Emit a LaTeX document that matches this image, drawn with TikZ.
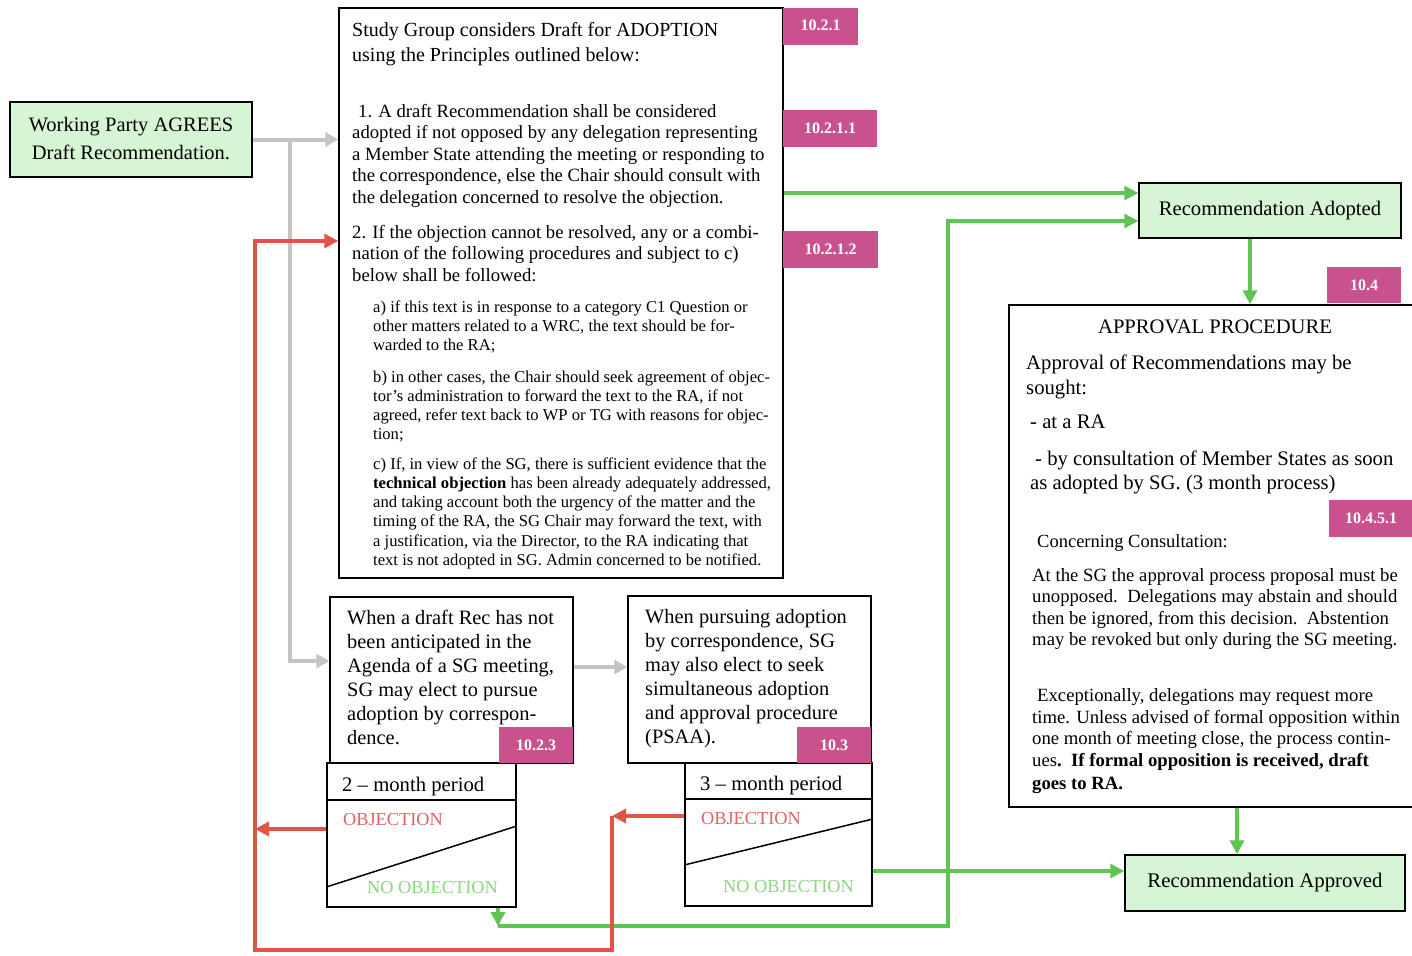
\documentclass[tikz,border=0pt]{standalone}
\usepackage{fontspec}
\setmainfont{Liberation Serif}
\usetikzlibrary{arrows.meta}
\definecolor{boxgreen}{RGB}{214,245,212}
\definecolor{tagmag}{RGB}{201,82,142}
\definecolor{lgreen}{RGB}{95,195,85}
\definecolor{lred}{RGB}{224,85,72}
\definecolor{lgrey}{RGB}{200,195,190}
\definecolor{objred}{RGB}{222,100,100}
\definecolor{nogreen}{RGB}{140,215,130}
\newcommand\myfs[2]{\fontsize{#1}{#2}\selectfont}
\begin{document}
\begin{tikzpicture}[x=1pt,y=-1pt,
  box/.style={draw=black, line width=1.5pt, rectangle, inner sep=0pt},
  gbox/.style={box, fill=boxgreen},
  tag/.style={fill=tagmag, draw=none, text=white, rectangle, inner sep=0pt, font=\bfseries\myfs{16}{18}},
  txt/.style={anchor=north west, inner sep=0pt, align=left},
  sep/.style={draw=black, line width=1.5pt},
  gra/.style={draw=lgrey, line width=4pt, -{Triangle[length=13pt,width=14pt]}},
  gar/.style={draw=lgreen, line width=4pt, line join=miter, -{Triangle[length=14pt,width=14pt]}},
  rar/.style={draw=lred, line width=4pt, line join=miter, -{Triangle[length=14pt,width=14pt]}}]
\useasboundingbox (0,0) rectangle (1412,955);
\fill[white] (0,0) rectangle (1412,955);

% ---------- boxes ----------
\node[gbox, minimum width=242, minimum height=75, font=\myfs{20.5}{28}, align=center] (wp) at (131,139.5) {\raisebox{2pt}{Working Party AGREES}\\\raisebox{2pt}{Draft Recommendation.}};
\node[box, minimum width=444, minimum height=570] (top) at (561,293) {};
\node[gbox, minimum width=262, minimum height=55, font=\myfs{20.7}{25}] (ra) at (1270,210.5) {\raisebox{5pt}{Recommendation Adopted}};
\node[box, minimum width=410, minimum height=502] (ap) at (1214,556) {};
\node[gbox, minimum width=280, minimum height=56, font=\myfs{20.8}{25}] (rapp) at (1265,883) {\raisebox{6pt}{Recommendation Approved}};
\node[box, minimum width=243, minimum height=166] (b1) at (451.5,680) {};
\node[box, minimum width=243, minimum height=167] (b2) at (749.5,679.5) {};
\node[box, minimum width=189, minimum height=144] (m2) at (421.5,835) {};
\node[box, minimum width=187, minimum height=143] (m3) at (778.5,834.5) {};

% ---------- tags ----------
\node[tag, minimum width=75, minimum height=37] (t1) at (820.5,26.5) {\raisebox{2pt}{10.2.1}};
\node[tag, minimum width=94, minimum height=37] (t2) at (830,128.5) {10.2.1.1};
\node[tag, minimum width=95, minimum height=37] (t3) at (830.5,249.5) {10.2.1.2};
\node[tag, minimum width=74, minimum height=36] (t4) at (1364,285) {10.4};
\node[tag, minimum width=84, minimum height=37] (t5) at (1371,518.5) {10.4.5.1};
\node[tag, minimum width=74, minimum height=36] (t6) at (536,745) {10.2.3};
\node[tag, minimum width=74, minimum height=36] (t7) at (834,745) {10.3};

% ---------- top box text ----------
\node[txt, font=\myfs{20}{25}] (toph) at (352,22.5) {Study Group considers Draft for ADOPTION\\using the Principles outlined below:};
\node[txt, font=\myfs{18.7}{21.5}] (p1) at (352,104) {\hspace*{6pt}1. A draft Recommendation shall be considered\\adopted if not opposed by any delegation representing\\a Member State attending the meeting or responding to\\the correspondence, else the Chair should consult with\\the delegation concerned to resolve the objection.};
\node[txt, font=\myfs{18.7}{21.5}] (p2) at (352,225) {2. If the objection cannot be resolved, any or a combi-\\nation of the following procedures and subject to c)\\below shall be followed:};
\node[txt, font=\myfs{16.6}{19}] (pa) at (373,300.5) {a) if this text is in response to a category C1 Question or\\other matters related to a WRC, the text should be for-\\warded to the RA;};
\node[txt, font=\myfs{16.6}{19}] (pb) at (373,370.5) {b) in other cases, the Chair should seek agreement of objec-\\tor’s administration to forward the text to the RA, if not\\agreed, refer text back to WP or TG with reasons for objec-\\tion;};
\node[txt, font=\myfs{16.6}{19.2}] (pc) at (373,457.5) {c) If, in view of the SG, there is sufficient evidence that the\\\textbf{technical objection} has been already adequately addressed,\\and taking account both the urgency of the matter and the\\timing of the RA, the SG Chair may forward the text, with\\a justification, via the Director, to the RA indicating that\\text is not adopted in SG. Admin concerned to be notified.};

% ---------- lower boxes text ----------
\node[txt, font=\myfs{20.4}{24}] (b1t) at (347,609.5) {When a draft Rec has not\\been anticipated in the\\Agenda of a SG meeting,\\SG may elect to pursue\\adoption by correspon-\\dence.};
\node[txt, font=\myfs{20.4}{24}] (b2t) at (645,609.5) {When pursuing adoption\\by correspondence, SG\\may also elect to seek\\simultaneous adoption\\and approval procedure\\(PSAA).};
\node[txt, font=\myfs{20.7}{25}] (m2h) at (342,777) {2 -- month period};
\node[txt, font=\myfs{20.7}{25}] (m3h) at (700,776) {3 -- month period};
\node[txt, font=\myfs{18.3}{22}, text=objred] (m2o) at (343,813) {OBJECTION};
\node[txt, font=\myfs{18.3}{22}, text=nogreen] (m2n) at (367,881) {NO OBJECTION};
\node[txt, font=\myfs{18.3}{22}, text=objred] (m3o) at (701,812) {OBJECTION};
\node[txt, font=\myfs{18.3}{22}, text=nogreen] (m3n) at (723,880) {NO OBJECTION};

% ---------- approval text ----------
\node[font=\myfs{20.6}{25}, inner sep=0pt] (aph) at (1215,327) {APPROVAL PROCEDURE};
\node[txt, font=\myfs{20.7}{25}] (ap1) at (1026,354.5) {Approval of Recommendations may be\\sought:};
\node[txt, font=\myfs{20.7}{25}] (ap2) at (1030,414.5) {- at a RA};
\node[txt, font=\myfs{20.7}{24}] (ap3) at (1030,450.5) {\hspace*{5pt}- by consultation of Member States as soon\\as adopted by SG. (3 month process)};
\node[txt, font=\myfs{18.5}{21.5}] (ap4) at (1037,534.5) {Concerning Consultation:};
\node[txt, font=\myfs{18.7}{21.3}] (ap5) at (1032,568.4) {At the SG the approval process proposal must be\\unopposed.\ \ Delegations may abstain and should\\then be ignored, from this decision.\ \ Abstention\\may be revoked but only during the SG meeting.};
\node[txt, font=\myfs{18.7}{21.5}] (ap6) at (1032,688.4) {\hspace*{5pt}Exceptionally, delegations may request more\\time. Unless advised of formal opposition within\\one month of meeting close, the process contin-\\ues\textbf{.\ \ If formal opposition is received, draft}\\[2pt]\textbf{goes to RA.}};

% ---------- separators inside period boxes ----------
\coordinate (y800) at (0,800);
\coordinate (y799) at (0,799);
\coordinate (y887) at (0,887);
\coordinate (y826) at (0,826);
\coordinate (y865) at (0,865);
\coordinate (y819) at (0,819);
\draw[sep] (m2.west |- y800) -- (m2.east |- y800);
\draw[sep] (m3.west |- y799) -- (m3.east |- y799);
\draw[sep] (m2.west |- y887) -- (m2.east |- y826);
\draw[sep] (m3.west |- y865) -- (m3.east |- y819);

% ---------- grey connectors ----------
\coordinate (j1) at (290,139.5);
\coordinate (j2) at (290,661);
\coordinate (y667) at (0,667);
\draw[gra] (wp.east) -- (top.west |- wp.east);
\draw[gra] (j1) -- (j2) -- (b1.west |- j2);
\draw[gra] (b1.east |- y667) -- (b2.west |- y667);

% ---------- green connectors ----------
\coordinate (y193) at (0,193);
\coordinate (y221) at (0,221);
\coordinate (y871) at (0,871);
\coordinate (g1) at (498,926);
\coordinate (g2) at (948,926);
\coordinate (x1250) at (1250,0);
\coordinate (x1237) at (1237,0);
\draw[gar] (top.east |- y193) -- (ra.west |- y193);
\draw[gar] (m2.south -| g1) -- (g1);
\draw[gar] (g1) -- (g2) -- (g2 |- y221) -- (ra.west |- y221);
\draw[gar] (m3.east |- y871) -- (rapp.west |- y871);
\draw[gar] (ra.south -| x1250) -- (ap.north -| x1250);
\draw[gar] (ap.south -| x1237) -- (rapp.north -| x1237);

% ---------- red connectors ----------
\coordinate (r1) at (612,816);
\coordinate (r2) at (612,950);
\coordinate (r3) at (255,950);
\coordinate (r4) at (255,829);
\coordinate (y241) at (0,241);
\draw[rar] (m3.west |- r1) -- (r1);
\draw[rar] (r1) -- (r2) -- (r3) -- (r3 |- y241) -- (top.west |- y241);
\draw[rar] (m2.west |- r4) -- (r4);
\end{tikzpicture}
\end{document}
